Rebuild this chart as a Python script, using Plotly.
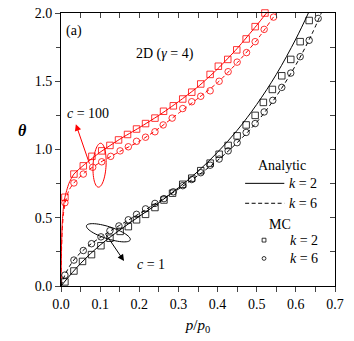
import numpy as np
import plotly.graph_objects as go

# ---- data (theta vs p/p0, 2D, gamma = 4) ----
# analytic curves
red_k2_x = [0, 0.001, 0.003, 0.006, 0.01, 0.02, 0.033, 0.06, 0.1, 0.15, 0.2, 0.25, 0.3, 0.35, 0.4, 0.45, 0.5, 0.525]
red_k2_y = [0, 0.25, 0.45, 0.57, 0.65, 0.75, 0.82, 0.89, 0.98, 1.075, 1.16, 1.25, 1.35, 1.46, 1.59, 1.74, 1.91, 2.0]
red_k6_x = [0, 0.001, 0.003, 0.006, 0.01, 0.02, 0.033, 0.06, 0.1, 0.15, 0.2, 0.25, 0.3, 0.35, 0.4, 0.45, 0.5, 0.55]
red_k6_y = [0, 0.22, 0.4, 0.52, 0.6, 0.7, 0.755, 0.83, 0.905, 0.985, 1.06, 1.155, 1.265, 1.375, 1.49, 1.635, 1.80, 2.0]
blk_k2_x = [0, 0.05, 0.1, 0.15, 0.2, 0.25, 0.3, 0.35, 0.4, 0.45, 0.5, 0.55, 0.6, 0.632]
blk_k2_y = [0, 0.165, 0.30, 0.41, 0.51, 0.61, 0.72, 0.84, 0.98, 1.14, 1.33, 1.55, 1.81, 2.0]
blk_k6_x = [0, 0.01, 0.03, 0.06, 0.1, 0.15, 0.2, 0.25, 0.3, 0.35, 0.4, 0.45, 0.5, 0.55, 0.6, 0.64, 0.665]
blk_k6_y = [0, 0.08, 0.18, 0.27, 0.355, 0.445, 0.53, 0.62, 0.71, 0.81, 0.92, 1.05, 1.20, 1.39, 1.62, 1.84, 2.0]

# MC points
red_sq_x = [0.010, 0.033, 0.057, 0.079, 0.104, 0.125, 0.147, 0.170, 0.193, 0.216, 0.240, 0.262,
            0.287, 0.311, 0.334, 0.357, 0.381, 0.402, 0.426, 0.449, 0.473, 0.496, 0.521]
red_sq_y = [0.65, 0.82, 0.88, 0.95, 0.99, 1.03, 1.07, 1.11, 1.15, 1.19, 1.23, 1.28,
            1.32, 1.37, 1.42, 1.48, 1.55, 1.61, 1.66, 1.73, 1.81, 1.90, 2.00]
red_ci_x = [0.010, 0.033, 0.057, 0.081, 0.104, 0.127, 0.151, 0.172, 0.193, 0.216, 0.240, 0.261,
            0.284, 0.311, 0.334, 0.357, 0.381, 0.404, 0.427, 0.450, 0.474, 0.496, 0.519, 0.543]
red_ci_y = [0.61, 0.755, 0.82, 0.87, 0.91, 0.95, 0.99, 1.02, 1.06, 1.09, 1.13, 1.18,
            1.23, 1.30, 1.35, 1.39, 1.43, 1.50, 1.57, 1.64, 1.71, 1.79, 1.88, 1.97]
blk_sq_x = [0.010, 0.033, 0.055, 0.078, 0.102, 0.125, 0.151, 0.172, 0.193, 0.216, 0.240, 0.263, 0.285, 0.311,
            0.334, 0.357, 0.381, 0.404, 0.427, 0.450, 0.473, 0.496, 0.517, 0.540, 0.564, 0.587, 0.611, 0.634]
blk_sq_y = [0.03, 0.11, 0.18, 0.23, 0.295, 0.35, 0.40, 0.435, 0.485, 0.525, 0.575, 0.63, 0.68, 0.745,
            0.79, 0.845, 0.90, 0.965, 1.03, 1.10, 1.18, 1.25, 1.345, 1.44, 1.54, 1.66, 1.79, 1.945]
blk_ci_x = [0.010, 0.033, 0.057, 0.078, 0.102, 0.125, 0.148, 0.172, 0.193, 0.216, 0.240, 0.263, 0.287, 0.311,
            0.334, 0.357, 0.381, 0.404, 0.427, 0.450, 0.473, 0.496, 0.519, 0.541, 0.564, 0.587, 0.611, 0.634, 0.657]
blk_ci_y = [0.08, 0.19, 0.26, 0.31, 0.36, 0.405, 0.44, 0.485, 0.525, 0.565, 0.605, 0.64, 0.69, 0.735,
            0.78, 0.83, 0.885, 0.93, 0.99, 1.05, 1.125, 1.19, 1.275, 1.36, 1.455, 1.56, 1.68, 1.80, 1.96]

FONT = "Liberation Serif"
RED = "#ff0000"
# page body adds an 8px margin, so the figure is 8px smaller than the window
W, H = 346, 333
ML, MR, MT, MB = 53, 19, 5, 55
XR, YR = [0, 0.7], [0, 2.0]
px_x = (W - ML - MR) / (XR[1] - XR[0])
px_y = (H - MT - MB) / (YR[1] - YR[0])


def ellipse_path(cx, cy, rx, ry, ang):
    # ellipse given in pixels (radii, angle) around a data-space centre
    t = np.linspace(0, 2 * np.pi, 60)
    a = np.deg2rad(ang)
    ex = rx * np.cos(t) * np.cos(a) - ry * np.sin(t) * np.sin(a)
    ey = rx * np.cos(t) * np.sin(a) + ry * np.sin(t) * np.cos(a)
    xs = cx + ex / px_x
    ys = cy - ey / px_y
    return "M " + " L ".join(f"{x:.5f},{y:.5f}" for x, y in zip(xs, ys)) + " Z"


fig = go.Figure()

# analytic lines
fig.add_trace(go.Scatter(x=red_k2_x, y=red_k2_y, mode="lines", line=dict(color=RED, width=1, shape="spline", smoothing=0.6)))
fig.add_trace(go.Scatter(x=red_k6_x, y=red_k6_y, mode="lines", line=dict(color=RED, width=1, dash="4px,3px", shape="spline", smoothing=0.6)))
fig.add_trace(go.Scatter(x=blk_k2_x, y=blk_k2_y, mode="lines", line=dict(color="black", width=1, shape="spline")))
fig.add_trace(go.Scatter(x=blk_k6_x, y=blk_k6_y, mode="lines", line=dict(color="black", width=1, dash="4px,3px", shape="spline")))

# MC markers
for xs, ys, sym, col in [(red_sq_x, red_sq_y, "square-open", RED), (red_ci_x, red_ci_y, "circle-open", RED),
                         (blk_sq_x, blk_sq_y, "square-open", "black"), (blk_ci_x, blk_ci_y, "circle-open", "black")]:
    fig.add_trace(go.Scatter(x=xs, y=ys, mode="markers", cliponaxis=False,
                             marker=dict(symbol=sym, size=6.5, color=col, line=dict(width=0.8, color=col))))

# dummy trace for the mirrored axes (ticks inside)
fig.add_trace(go.Scatter(x=[None], y=[None], xaxis="x2", yaxis="y2", hoverinfo="skip"))

tickfont = dict(family=FONT, size=14, color="black")
fig.update_layout(
    width=W, height=H, showlegend=False,
    margin=dict(l=ML, r=MR, t=MT, b=MB, autoexpand=False),
    paper_bgcolor="white", plot_bgcolor="white",
    font=dict(family=FONT, color="black"),
    xaxis=dict(range=XR, dtick=0.1, tickformat=".1f", ticks="outside", ticklen=5, tickwidth=1,
               minor=dict(dtick=0.05, ticks="outside", ticklen=5, tickwidth=1),
               showline=True, linecolor="black", linewidth=1, mirror=True, showgrid=False, zeroline=False,
               tickfont=tickfont, automargin=False, ticklabeloverflow="allow",
               title=dict(text="<i>p</i>/<i>p</i><sub>0</sub>", font=dict(family=FONT, size=15), standoff=8)),
    yaxis=dict(range=YR, dtick=0.5, tickformat=".1f", ticks="outside", ticklen=5, tickwidth=1,
               minor=dict(dtick=0.25, ticks="outside", ticklen=4, tickwidth=1),
               showline=True, linecolor="black", linewidth=1, mirror=True, showgrid=False, zeroline=False,
               tickfont=tickfont, automargin=False, ticklabeloverflow="allow"),
    xaxis2=dict(range=XR, overlaying="x", side="top", dtick=0.05, ticks="inside", ticklen=5, tickwidth=1,
                showticklabels=False, showgrid=False, zeroline=False, showline=False, automargin=False),
    yaxis2=dict(range=YR, overlaying="y", side="right", dtick=0.25, ticks="inside", ticklen=5, tickwidth=1,
                showticklabels=False, showgrid=False, zeroline=False, showline=False, automargin=False),
)

# loops around the curves
fig.add_shape(type="path", xref="x", yref="y", path=ellipse_path(0.0985, 0.885, 22, 6.5, 93),
              line=dict(color=RED, width=1))
fig.add_shape(type="path", xref="x", yref="y", path=ellipse_path(0.121, 0.39, 23, 6, 18),
              line=dict(color="black", width=1))

anns = [
    dict(x=0.033, y=1.87, text="(a)", showarrow=False, xanchor="center"),
    dict(x=0.266, y=1.70, text="2D (<i>γ</i> = 4)", showarrow=False, xanchor="center"),
    dict(x=0.010, y=1.265, text="<i>c</i> = 100", showarrow=False, xanchor="left"),
    dict(x=0.189, y=0.16, text="<i>c</i> = 1", showarrow=False, xanchor="left"),
    # arrows
    dict(x=0.038, y=1.185, ax=0.074, ay=0.885, axref="x", ayref="y", text="", showarrow=True,
         arrowhead=2, arrowsize=1.3, arrowwidth=1, arrowcolor=RED),
    dict(x=0.161, y=0.183, ax=0.1125, ay=0.388, axref="x", ayref="y", text="", showarrow=True,
         arrowhead=2, arrowsize=1.3, arrowwidth=1, arrowcolor="black"),
    # y axis title
    dict(x=-0.139, y=0.57, text="<b><i>θ</i></b>", showarrow=False, xref="paper", yref="paper",
         xanchor="center", size=16),
]

# hand-made legend (paper coordinates)
anns += [
    dict(x=0.805, y=0.44, text="Analytic", showarrow=False, xref="paper", yref="paper", xanchor="center"),
    dict(x=0.825, y=0.376, text="<i>k</i> = 2", showarrow=False, xref="paper", yref="paper", xanchor="left"),
    dict(x=0.825, y=0.303, text="<i>k</i> = 6", showarrow=False, xref="paper", yref="paper", xanchor="left"),
    dict(x=0.80, y=0.227, text="MC", showarrow=False, xref="paper", yref="paper", xanchor="center"),
    dict(x=0.828, y=0.168, text="<i>k</i> = 2", showarrow=False, xref="paper", yref="paper", xanchor="left"),
    dict(x=0.828, y=0.101, text="<i>k</i> = 6", showarrow=False, xref="paper", yref="paper", xanchor="left"),
]
for a in anns:
    a["yanchor"] = "middle"
    a["font"] = dict(family=FONT, size=a.pop("size", 14), color="black")
fig.update_layout(annotations=anns)

fig.add_shape(type="line", xref="paper", yref="paper", x0=0.672, x1=0.815, y0=0.376, y1=0.376,
              line=dict(color="black", width=1))
fig.add_shape(type="line", xref="paper", yref="paper", x0=0.672, x1=0.815, y0=0.303, y1=0.303,
              line=dict(color="black", width=1, dash="4px,2.5px"))
fig.add_shape(type="rect", xref="paper", yref="paper", x0=0.734, x1=0.748, y0=0.161, y1=0.175,
              line=dict(color="black", width=0.8))
fig.add_shape(type="circle", xref="paper", yref="paper", x0=0.734, x1=0.748, y0=0.094, y1=0.108,
              line=dict(color="black", width=0.8))

fig.write_html("out.html")
